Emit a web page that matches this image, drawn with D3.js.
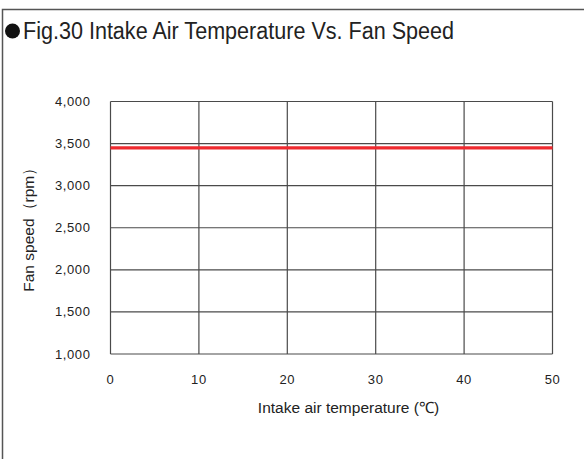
<!DOCTYPE html>
<html>
<head>
<meta charset="utf-8">
<script src="https://cdn.jsdelivr.net/npm/d3@7"></script>
<style>
  body { margin: 0; background: #fff; }
  svg text { font-family: "Liberation Sans", Arial, sans-serif; fill: #222; }
</style>
</head>
<body>
<div id="chart"></div>
<script>
// Fan speed vs intake air temperature
const temps = [0, 50]
const speeds = [3450, 3450]
const xTicks = [0, 10, 20, 30, 40, 50]
const yTicks = [1000, 1500, 2000, 2500, 3000, 3500, 4000]

const W = 584, H = 459
const margin = {left: 110.5, right: 31.5, top: 101.5, bottom: 105}
const width = W - margin.left - margin.right
const height = H - margin.top - margin.bottom

const svg = d3.select("#chart").append("svg")
    .attr("width", W).attr("height", H)

// frame (top + left only)
svg.append("path")
    .attr("d", "M2.5,459 V9.5 H584")
    .attr("fill", "none").attr("stroke", "#555").attr("stroke-width", 1.5)

svg.append("circle").attr("cx", 12.5).attr("cy", 31).attr("r", 7.5).attr("fill", "#111")
svg.append("text")
    .attr("x", 23).attr("y", 38.5)
    .attr("textLength", 431).attr("lengthAdjust", "spacingAndGlyphs")
    .style("font-size", "23px")
    .text("Fig.30 Intake Air Temperature Vs. Fan Speed")

const g = svg.append("g").attr("transform", `translate(${margin.left},${margin.top})`)

const x = d3.scaleLinear().domain([0, 50]).range([0, width])
const y = d3.scaleLinear().domain([1000, 4000]).range([height, 0])

// grid
g.selectAll("line.hg").data(yTicks).join("line")
    .attr("x1", 0).attr("x2", width)
    .attr("y1", d => y(d)).attr("y2", d => y(d))
    .attr("stroke", "#4a4a4a").attr("stroke-width", 1.2)
g.selectAll("line.vg").data(xTicks).join("line")
    .attr("y1", 0).attr("y2", height)
    .attr("x1", d => x(d)).attr("x2", d => x(d))
    .attr("stroke", "#4a4a4a").attr("stroke-width", 1.2)

const fmt = d3.format(",")
g.selectAll("text.yt").data(yTicks).join("text")
    .attr("x", -20).attr("y", d => y(d) + 4.5)
    .attr("text-anchor", "end")
    .style("font-size", "13px")
    .style("letter-spacing", "0.6px")
    .text(d => fmt(d))

g.selectAll("text.xt").data(xTicks).join("text")
    .attr("x", d => x(d)).attr("y", height + 30)
    .attr("text-anchor", "middle")
    .style("font-size", "13px")
    .style("letter-spacing", "0.6px")
    .text(d => d)

g.append("text")
    .attr("x", 238).attr("y", height + 59)
    .attr("text-anchor", "middle")
    .style("font-size", "15.5px")
    .text("Intake air temperature (℃)")

g.append("text")
    .attr("transform", `translate(-77,${height / 2 - 2}) rotate(-90)`)
    .attr("text-anchor", "middle")
    .style("font-size", "15.5px")
    .text("Fan speed（rpm）")

const line = d3.line().x((d, i) => x(temps[i])).y(d => y(d))
g.append("path")
    .attr("d", line(speeds))
    .attr("fill", "none").attr("stroke", "#ee2a2f").attr("stroke-width", 3.2)
</script>
</body>
</html>
